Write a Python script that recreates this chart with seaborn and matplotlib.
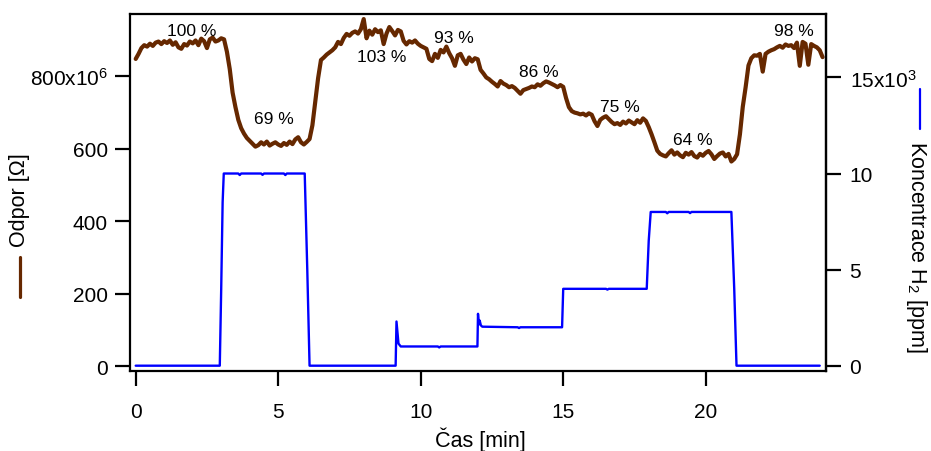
import numpy as np
import pandas as pd
import matplotlib
matplotlib.use("Agg")
import matplotlib.pyplot as plt
from matplotlib.lines import Line2D
from matplotlib.ticker import FixedLocator, FixedFormatter
import seaborn as sns

# ---------------- data ----------------
cas_start_min = 0.0
cas_krok_min = 0.1
odpor_MOhm = [
    848, 862, 878, 886, 882, 890, 884, 893, 896, 889,
    897, 892, 899, 887, 894, 880, 876, 889, 885, 896,
    891, 899, 886, 904, 897, 878, 902, 907, 896, 899,
    905, 902, 868, 820, 755, 715, 680, 657, 642, 630,
    622, 614, 606, 610, 618, 612, 620, 609, 614, 618,
    612, 608, 616, 611, 620, 613, 626, 632, 618, 612,
    619, 627, 665, 730, 795, 845, 852, 860, 866, 872,
    880, 895, 889, 906, 917, 912, 920, 924, 918, 930,
    958, 905, 926, 915, 930, 922, 927, 889, 918, 936,
    925, 913, 928, 924, 898, 888, 897, 893, 899, 890,
    884, 880, 876, 848, 842, 862, 851, 873, 866, 882,
    864, 850, 829, 858, 862, 846, 834, 852, 841, 850,
    847, 818, 808, 797, 792, 785, 779, 772, 787, 780,
    776, 770, 773, 768, 760, 752, 762, 765, 768, 772,
    770, 778, 774, 781, 786, 783, 779, 775, 770, 776,
    771, 740, 715, 704, 700, 698, 695, 697, 692, 698,
    694, 676, 663, 680, 686, 690, 682, 674, 668, 671,
    666, 675, 670, 678, 673, 668, 679, 672, 684, 677,
    660, 640, 618, 595, 586, 582, 579, 588, 596, 584,
    590, 582, 577, 589, 584, 591, 580, 576, 586, 581,
    589, 594, 585, 572, 580, 587, 590, 579, 586, 565,
    572, 585, 640, 716, 770, 830, 850, 858, 857, 862,
    813, 862, 868, 872, 875, 880, 884, 879, 888, 884,
    886, 878, 893, 829, 895, 890, 832, 889, 884, 880,
    872, 853,
]

konc_cas_min = [
    0.0, 2.95, 3.0, 3.05, 3.09, 3.6, 3.65, 3.7, 4.4, 4.45, 4.5, 5.2, 5.25, 5.3,
    5.93, 6.02, 6.1,
    9.12, 9.15, 9.22, 9.3, 10.6, 10.65, 10.7, 11.99,
    12.01, 12.04, 12.07, 12.11, 12.16, 13.4, 13.45, 13.5, 14.96,
    15.0, 16.5, 16.55, 16.6, 17.93,
    18.0, 18.07, 18.6, 18.65, 18.7, 19.4, 19.45, 19.5, 20.9,
    21.0, 21.08, 24.0,
]
konc_ppm = [
    0, 0, 4000, 8500, 10000, 10000, 9920, 10000, 10000, 9930, 10000, 10000, 9920, 10000,
    10000, 5000, 0,
    0, 2300, 1150, 1000, 1000, 950, 1000, 1000,
    2700, 2150, 2350, 2100, 2030, 2000, 1960, 2000, 2000,
    4000, 4000, 3960, 4000, 4000,
    6500, 8000, 8000, 7930, 8000, 8000, 7940, 8000, 8000,
    4000, 0, 0,
]

popisky = ["100 %", "69 %", "103 %", "93 %", "86 %", "75 %", "64 %", "98 %"]

x_ticks = [0, 5, 10, 15, 20]
left_ticks_MOhm = [0, 200, 400, 600, 800]
left_tick_labels = ["0", "200", "400", "600", "800x10$^{6}$"]
right_ticks_ppm = [0, 5000, 10000, 15000]
right_tick_labels = ["0", "5", "10", "15x10$^{3}$"]

# ---------------- styling ----------------
sns.set_theme(style="ticks")
plt.rcParams["font.family"] = ["Liberation Sans", "DejaVu Sans"]
plt.rcParams["mathtext.fontset"] = "custom"
plt.rcParams["mathtext.rm"] = "Liberation Sans"
plt.rcParams["mathtext.it"] = "Liberation Sans:italic"
plt.rcParams["mathtext.bf"] = "Liberation Sans:bold"

BROWN = "#662800"
BLUE = "#0000ff"
W, H = 931, 452

cas_min = np.round(cas_start_min + cas_krok_min * np.arange(len(odpor_MOhm)), 2)
df_odpor = pd.DataFrame({"cas": cas_min, "odpor": np.array(odpor_MOhm) * 1e6})
df_konc = pd.DataFrame({"cas": konc_cas_min, "konc": konc_ppm})

fig = plt.figure(figsize=(W / 100, H / 100), dpi=100)
fig.patch.set_facecolor("white")
ax = fig.add_axes([130 / W, 80 / H, 696 / W, 357 / H])
ax2 = ax.twinx()

sns.lineplot(data=df_odpor, x="cas", y="odpor", ax=ax, color=BROWN,
             linewidth=3.0, sort=False, estimator=None)
sns.lineplot(data=df_konc, x="cas", y="konc", ax=ax2, color=BLUE,
             linewidth=1.7, sort=False, estimator=None)

ax.set_xlim(-0.2, 24.22)
ax.set_ylim(-13e6, 972e6)
ax2.set_ylim(-276, 18300)

ax.set_xlabel("")
ax.set_ylabel("")
ax2.set_ylabel("")

ax.xaxis.set_major_locator(FixedLocator(x_ticks))
ax.set_xticklabels([str(v) for v in x_ticks])
ax.yaxis.set_major_locator(FixedLocator([v * 1e6 for v in left_ticks_MOhm]))
ax.yaxis.set_major_formatter(FixedFormatter(left_tick_labels))
ax2.yaxis.set_major_locator(FixedLocator(right_ticks_ppm))
ax2.yaxis.set_major_formatter(FixedFormatter(right_tick_labels))

for a in (ax, ax2):
    for s in a.spines.values():
        s.set_linewidth(1.6)
        s.set_color("black")
    a.set_facecolor("none")
    a.grid(False)
ax.set_facecolor("white")
for s in ("left", "top", "bottom"):
    ax2.spines[s].set_visible(False)

ax.tick_params(axis="x", which="major", direction="out", length=10.5, width=1.6,
               labelsize=15, pad=12, colors="black", top=False, bottom=True)
ax.tick_params(axis="y", which="major", direction="out", length=10.5, width=1.6,
               labelsize=15, pad=5.5, colors="black", right=False, left=True)
ax2.tick_params(axis="y", which="major", direction="out", length=10.5, width=1.6,
                labelsize=15, pad=6.5, colors="black", right=True, left=False)

# annotations (x in min, baseline y in MOhm)
poz = [(1.97, 914), (4.84, 671), (8.64, 842), (11.15, 895),
       (14.13, 801), (16.98, 704), (19.55, 613), (23.1, 914)]
for txt, (xx, yy) in zip(popisky, poz):
    ax.text(xx, yy * 1e6, txt, ha="center", va="baseline", fontsize=12.5,
            color="black")

# axis labels with line symbols (Igor style)
fig.text(480 / W, 1 - 447 / H, "Čas [min]", ha="center", va="baseline",
         fontsize=15.5, color="black")
fig.text(25.5 / W, 1 - 200.5 / H, "Odpor [Ω]", rotation=90, rotation_mode="anchor",
         ha="center", va="baseline", fontsize=15.5, color="black")
fig.add_artist(Line2D([20 / W, 20 / W], [1 - 258 / H, 1 - 298 / H],
                      transform=fig.transFigure, color=BROWN, linewidth=2.3))
fig.text(911 / W, 1 - 246.5 / H, "Koncentrace H$_2$ [ppm]", rotation=-90,
         rotation_mode="anchor", ha="center", va="baseline", fontsize=15.5,
         color="black")
fig.add_artist(Line2D([920 / W, 920 / W], [1 - 90 / H, 1 - 130 / H],
                      transform=fig.transFigure, color=BLUE, linewidth=1.6))

fig.savefig("out.png", dpi=100, facecolor="white")
